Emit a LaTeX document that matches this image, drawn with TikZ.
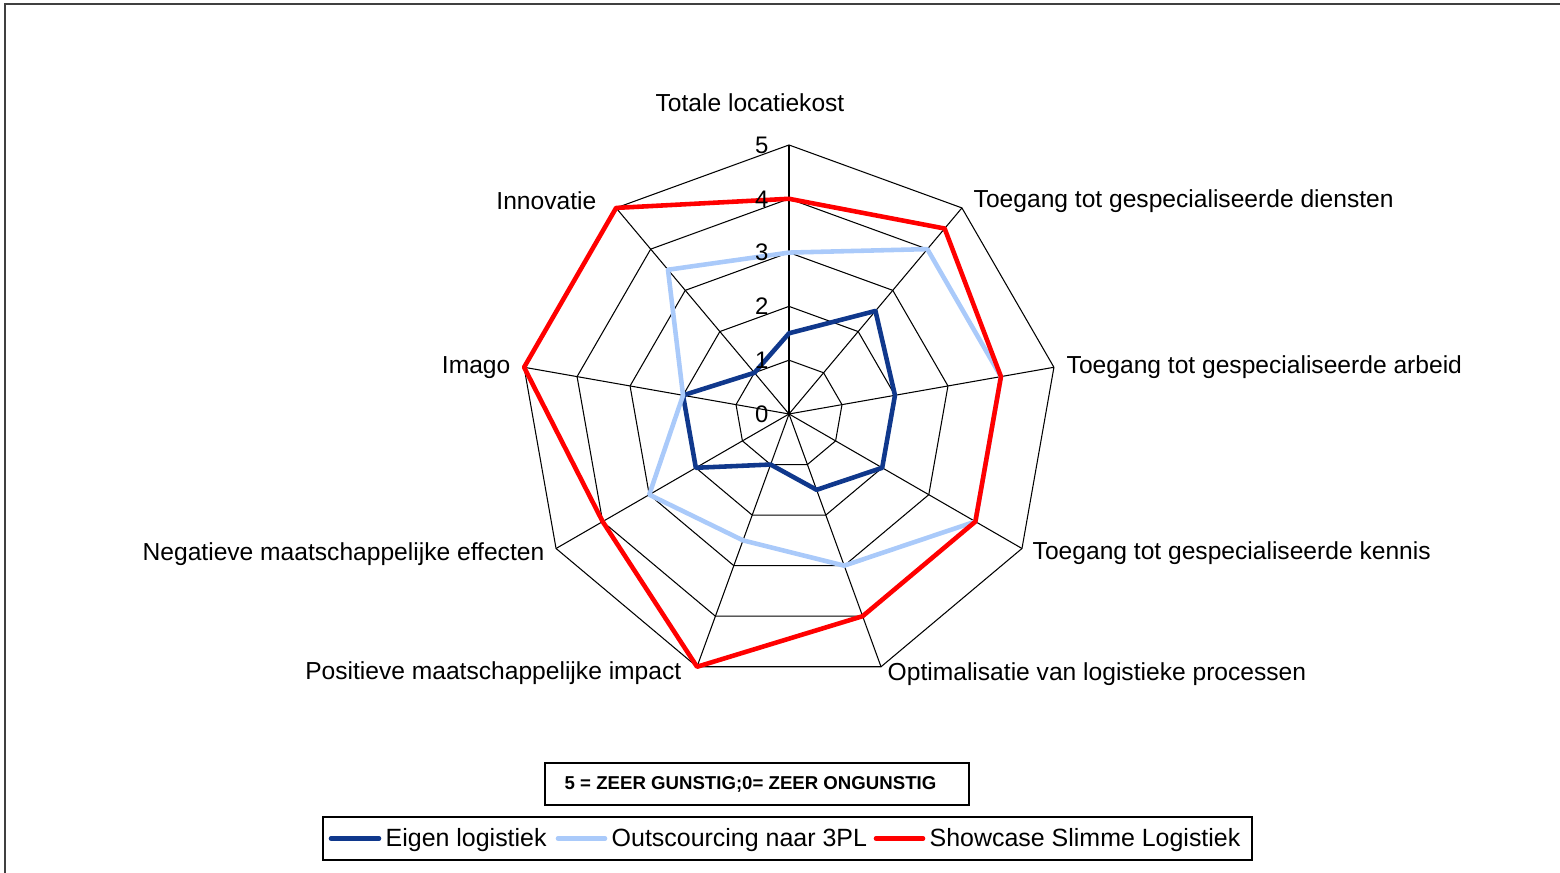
\documentclass[tikz,border=0pt]{standalone}
\usepackage{fontspec}
\setmainfont{Liberation Sans}
\usetikzlibrary{positioning}

\definecolor{eigenblue}{RGB}{16,56,140}
\definecolor{outblue}{RGB}{170,202,250}
\definecolor{showred}{RGB}{255,0,0}

\tikzset{
  webline/.style={black, line width=0.3pt},
  series/.style={line width=1.3pt, line join=round},
  axislabel/.style={inner sep=0pt, font=\fontsize{7.0}{8.4}\selectfont},
  ticklabel/.style={inner sep=0pt, anchor=east, font=\fontsize{6.8}{8}\selectfont},
  legendtext/.style={inner sep=0pt, anchor=base west, font=\fontsize{7.1}{8.5}\selectfont},
  notebox/.style={draw, line width=0.6pt, inner sep=0pt, minimum width=4.24cm, minimum height=0.42cm},
}

\begin{document}
\begin{tikzpicture}

\useasboundingbox (0,0) rectangle (15.6,8.73);
\clip (0,0) rectangle (15.6,8.73);
\draw[line width=0.6pt, black!75] (0.05,8.69) rectangle (15.8,-0.2);

\begin{scope}[shift={(7.89,4.59)}]
\def\u{0.538}

\foreach \r in {1,...,5}
	\draw[webline] (90:{\r*\u}) foreach \k in {1,...,8} {-- ({90-40*\k}:{\r*\u})} -- cycle;
\foreach \k in {0,...,8}
	\draw[webline] (0,0) -- ({90-40*\k}:{5*\u});

\draw[series, eigenblue] (90:{1.5*\u}) foreach \v [count=\k from 0] in {1.5,2.5,2,2,1.5,1,2,2,1} {-- ({90-40*\k}:{\v*\u})} -- cycle;
\draw[series, outblue] (90:{3*\u}) foreach \v [count=\k from 0] in {3,4,4,4,3,2.5,3,2,3.5} {-- ({90-40*\k}:{\v*\u})} -- cycle;
\draw[series, showred] (90:{4*\u}) foreach \v [count=\k from 0] in {4,4.5,4,4,4,5,4,5,5} {-- ({90-40*\k}:{\v*\u})} -- cycle;

\foreach \r in {0,...,5}
	\node[ticklabel] (tick\r) at (-0.2,{\r*\u}) {\r};
\end{scope}

\node[axislabel, anchor=base] (totale) at (7.50,7.61) {Totale locatiekost};
\node[axislabel, anchor=base west] (diensten) at (9.73,6.65) {Toegang tot gespecialiseerde diensten};
\node[axislabel, anchor=base west] (arbeid) at (10.66,4.99) {Toegang tot gespecialiseerde arbeid};
\node[axislabel, anchor=base west] (kennis) at (10.32,3.13) {Toegang tot gespecialiseerde kennis};
\node[axislabel, anchor=base west] (optim) at (8.87,1.92) {Optimalisatie van logistieke processen};
\node[axislabel, anchor=base east] (positief) at (6.82,1.93) {Positieve maatschappelijke impact};
\node[axislabel, anchor=base east] (negatief) at (5.45,3.12) {Negatieve maatschappelijke effecten};
\node[axislabel, anchor=base east] (imago) at (5.11,4.99) {Imago};
\node[axislabel, anchor=base east] (innovatie) at (5.97,6.63) {Innovatie};

\node[notebox] (note) at (7.57,0.89) {};
\node[inner sep=0pt, font=\fontsize{5.3}{6.5}\selectfont\bfseries] (notetext) at (7.505,0.89) {5 = ZEER GUNSTIG;0= ZEER ONGUNSTIG};

\node[draw, line width=0.4pt, inner sep=0pt, minimum width=9.29cm, minimum height=0.43cm] (legend) at (7.875,0.345) {};
\draw[series, eigenblue, line cap=round] (3.31,0.345) -- (3.79,0.345);
\node[legendtext] (legeigen) at (3.85,0.263) {Eigen logistiek};
\draw[series, outblue, line cap=round] (5.58,0.345) -- (6.05,0.345);
\node[legendtext] (legout) at (6.11,0.263) {Outscourcing naar 3PL};
\draw[series, showred, line cap=round] (8.76,0.345) -- (9.23,0.345);
\node[legendtext] (legshow) at (9.29,0.263) {Showcase Slimme Logistiek};

\end{tikzpicture}
\end{document}
